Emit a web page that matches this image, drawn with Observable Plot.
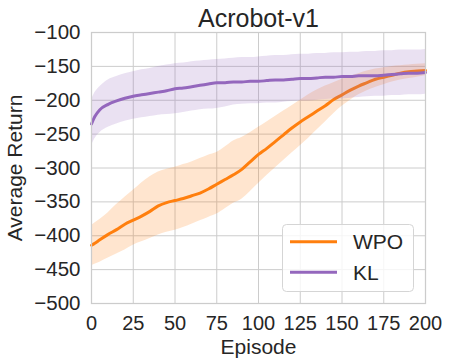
<!DOCTYPE html>
<html>
<head>
<meta charset="utf-8">
<script src="https://cdn.jsdelivr.net/npm/d3@7"></script>
<script src="https://cdn.jsdelivr.net/npm/@observablehq/plot@0.6"></script>
<style>
  html, body { margin: 0; padding: 0; background: white; }
  #chart { width: 450px; height: 364px; }
</style>
</head>
<body>
<div id="chart"></div>
<script>
const title = "Acrobot-v1";
const xLabel = "Episode";
const yLabel = "Average Return";
const seriesNames = ["WPO", "KL"];
const seriesColors = ["#ff7f0e", "#9467bd"];
const xTicks = [0, 25, 50, 75, 100, 125, 150, 175, 200];
const yTicks = [-500, -450, -400, -350, -300, -250, -200, -150, -100];

const episodes = [0, 2, 5, 10, 15, 20, 25, 30, 35, 40, 45, 50, 55, 60, 65, 70, 75, 80, 85, 90, 95, 100,
  105, 110, 115, 120, 125, 130, 135, 140, 145, 150, 155, 160, 165, 170, 175, 180, 185, 190, 195, 200];

const wpoMean = [-414, -411, -406, -398, -391, -383, -377, -371, -364, -356, -351, -348, -345, -341, -337, -331, -324, -317, -310, -302, -291, -280,
  -271, -261, -251, -241, -232, -224, -216, -208, -199, -192, -185, -179, -174, -169, -166, -163, -160, -158, -157, -156];
const wpoUpper = [-385, -381, -376, -366, -354, -343, -333, -322, -313, -306, -302, -299, -295, -291, -286, -281, -277, -269, -260, -255, -248, -240,
  -232, -224, -216, -208, -200, -192, -185, -179, -174, -169, -165, -161, -157, -154, -152, -150, -149, -148, -147, -146];
const wpoLower = [-444, -442, -439, -433, -427, -421, -414, -409, -404, -399, -395, -392, -388, -383, -378, -373, -368, -360, -352, -346, -335, -323,
  -311, -300, -289, -278, -267, -256, -244, -232, -220, -209, -200, -192, -186, -181, -177, -173, -170, -168, -166, -164];

const klMean = [-235, -224, -214, -206, -201, -197, -194, -192, -190, -188, -186, -183, -182, -180, -178, -176, -174, -174, -173, -173, -172, -172,
  -171, -170, -170, -169, -168, -168, -167, -166, -166, -165, -165, -164, -164, -164, -163, -162, -161, -160, -160, -159];
const klUpper = [-199, -189, -180, -170, -165, -161, -158, -155, -153, -150, -148, -146, -145, -143, -142, -141, -140, -139, -138, -137, -137, -136,
  -135, -134, -134, -133, -132, -132, -131, -131, -130, -130, -129, -129, -128, -128, -127, -127, -126, -126, -126, -125];
const klLower = [-267, -257, -248, -240, -235, -231, -228, -226, -224, -222, -221, -220, -218, -216, -214, -213, -212, -210, -207, -206, -205, -205,
  -204, -204, -203, -202, -201, -201, -200, -199, -198, -198, -197, -196, -195, -194, -194, -193, -193, -192, -192, -191];

const wpo = episodes.map((e, i) => ({episode: e, mean: wpoMean[i], lo: wpoLower[i], hi: wpoUpper[i]}));
const kl = episodes.map((e, i) => ({episode: e, mean: klMean[i], lo: klLower[i], hi: klUpper[i]}));

const fmt = d => (d < 0 ? "\u2212" + Math.abs(d) : String(d));
const textColor = "#262626";
const gridColor = "#cccccc";
const fontFamily = "'Liberation Sans', Arial, sans-serif";

const chart = Plot.plot({
  width: 450,
  height: 364,
  marginTop: 32,
  marginBottom: 61,
  marginLeft: 91,
  marginRight: 25,
  x: {domain: [0, 200]},
  y: {domain: [-500, -100]},
  style: {fontFamily, fontSize: "20px", color: textColor, background: "white"},
  marks: [
    Plot.gridX(xTicks, {stroke: gridColor, strokeOpacity: 1, strokeWidth: 1}),
    Plot.gridY(yTicks, {stroke: gridColor, strokeOpacity: 1, strokeWidth: 1}),
    Plot.areaY(wpo, {x: "episode", y1: "lo", y2: "hi", fill: seriesColors[0], fillOpacity: 0.2, curve: "monotone-x"}),
    Plot.lineY(wpo, {x: "episode", y: "mean", stroke: seriesColors[0], strokeWidth: 3, curve: "monotone-x"}),
    Plot.areaY(kl, {x: "episode", y1: "lo", y2: "hi", fill: seriesColors[1], fillOpacity: 0.2, curve: "monotone-x"}),
    Plot.lineY(kl, {x: "episode", y: "mean", stroke: seriesColors[1], strokeWidth: 3, curve: "monotone-x"}),
    Plot.frame({stroke: gridColor, strokeWidth: 1.25}),
    Plot.axisX(xTicks, {tickSize: 0, tickPadding: 12, fontSize: 20, label: null, tickFormat: fmt}),
    Plot.axisY(yTicks, {tickSize: 0, tickPadding: 11, fontSize: 20.5, label: null, tickFormat: fmt}),
    Plot.text([title], {frameAnchor: "top", textAnchor: "middle", lineAnchor: "bottom", dy: -6, fontSize: 25, fill: textColor}),
    Plot.text([xLabel], {frameAnchor: "bottom", textAnchor: "middle", lineAnchor: "middle", dy: 44, fontSize: 21, fill: textColor}),
    Plot.text([yLabel], {frameAnchor: "left", textAnchor: "middle", rotate: -90, lineAnchor: "middle", dx: -76, fontSize: 21, fill: textColor})
  ]
});

document.getElementById("chart").appendChild(chart);

// Legend (inside plot, lower right)
const svg = d3.select(chart);
const lg = svg.append("g").attr("font-family", fontFamily).attr("text-anchor", "start");
lg.append("rect")
  .attr("x", 282.5).attr("y", 224.5).attr("width", 131).attr("height", 67)
  .attr("rx", 4).attr("ry", 4)
  .attr("fill", "white").attr("fill-opacity", 0.8)
  .attr("stroke", "#d5d5d5").attr("stroke-width", 1);
seriesNames.forEach((name, i) => {
  const cy = 241.7 + i * 30.6;
  lg.append("line")
    .attr("x1", 290).attr("x2", 337).attr("y1", cy).attr("y2", cy)
    .attr("stroke", seriesColors[i]).attr("stroke-width", 3);
  lg.append("text")
    .attr("x", 353).attr("y", cy).attr("dy", "0.36em")
    .attr("text-anchor", "start")
    .attr("font-size", 21).attr("fill", textColor)
    .text(name);
});
</script>
</body>
</html>
